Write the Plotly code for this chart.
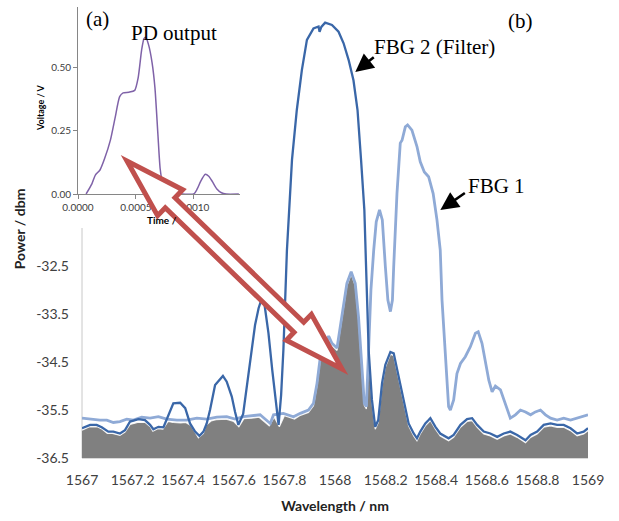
import math
import plotly.graph_objects as go

# ---------------- data (main chart) ----------------
WL_FBG2 = [1567.000, 1567.032, 1567.058, 1567.078, 1567.104, 1567.124, 1567.150, 1567.170, 1567.190,
           1567.223, 1567.249, 1567.269, 1567.282, 1567.302, 1567.322, 1567.341, 1567.361, 1567.388,
           1567.408, 1567.427, 1567.447, 1567.464, 1567.480, 1567.493, 1567.506, 1567.526, 1567.557,
           1567.572, 1567.592, 1567.605, 1567.618, 1567.637, 1567.665, 1567.684, 1567.698, 1567.711,
           1567.720, 1567.737, 1567.752, 1567.764, 1567.777, 1567.787, 1567.796, 1567.810, 1567.830,
           1567.849, 1567.869, 1567.889, 1567.915, 1567.935, 1567.939, 1567.946, 1567.961, 1567.988,
           1568.014, 1568.034, 1568.054, 1568.073, 1568.089, 1568.103, 1568.116, 1568.122, 1568.133,
           1568.146, 1568.159, 1568.171, 1568.186, 1568.199, 1568.219, 1568.232, 1568.251, 1568.271,
           1568.291, 1568.311, 1568.324, 1568.337, 1568.357, 1568.370, 1568.377, 1568.397, 1568.416,
           1568.449, 1568.469, 1568.496, 1568.522, 1568.542, 1568.562, 1568.588, 1568.614, 1568.641,
           1568.667, 1568.693, 1568.720, 1568.753, 1568.773, 1568.799, 1568.825, 1568.852, 1568.878,
           1568.904, 1568.931, 1568.957, 1568.983, 1569.000]
P_FBG2 = [-35.88, -35.81, -35.81, -35.86, -35.95, -35.95, -35.99, -35.92, -35.74,
          -35.69, -35.71, -35.81, -35.90, -35.85, -35.86, -35.60, -35.36, -35.35,
          -35.46, -35.78, -35.95, -36.04, -35.95, -35.78, -35.50, -34.98, -34.79,
          -34.91, -35.22, -35.54, -35.81, -35.58, -34.46, -33.73, -33.38, -33.17,
          -33.25, -33.90, -34.67, -35.29, -35.81, -35.19, -34.25, -32.17, -30.29,
          -29.25, -28.42, -27.79, -27.55, -27.51, -27.62, -27.52, -27.43, -27.48,
          -27.62, -27.86, -28.21, -28.63, -29.25, -30.29, -31.33, -32.38, -34.25,
          -35.29, -35.85, -35.71, -34.94, -34.56, -34.29, -34.32, -34.81, -35.29,
          -35.78, -35.99, -36.09, -35.95, -35.78, -35.71, -35.67, -35.85, -35.99,
          -36.09, -36.02, -35.81, -35.69, -35.67, -35.81, -35.95, -35.99, -36.06,
          -35.99, -35.95, -36.02, -36.13, -36.02, -35.95, -35.81, -35.78, -35.81,
          -35.81, -35.88, -35.99, -35.95, -35.88]

WL_FBG1 = [1567.000, 1567.032, 1567.071, 1567.098, 1567.124, 1567.150, 1567.177, 1567.203, 1567.236,
           1567.269, 1567.302, 1567.335, 1567.375, 1567.414, 1567.454, 1567.493, 1567.533, 1567.572,
           1567.605, 1567.638, 1567.671, 1567.704, 1567.744, 1567.757, 1567.796, 1567.836, 1567.863,
           1567.895, 1567.915, 1567.929, 1567.942, 1567.961, 1567.975, 1567.988, 1568.008, 1568.027,
           1568.047, 1568.064, 1568.080, 1568.093, 1568.107, 1568.116, 1568.124, 1568.134, 1568.142,
           1568.153, 1568.163, 1568.176, 1568.187, 1568.199, 1568.209, 1568.219, 1568.227, 1568.232,
           1568.245, 1568.258, 1568.265, 1568.278, 1568.287, 1568.304, 1568.324, 1568.337, 1568.353,
           1568.370, 1568.388, 1568.403, 1568.416, 1568.423, 1568.436, 1568.449, 1568.456, 1568.469,
           1568.482, 1568.496, 1568.515, 1568.535, 1568.555, 1568.566, 1568.581, 1568.594, 1568.608,
           1568.621, 1568.634, 1568.654, 1568.674, 1568.693, 1568.713, 1568.733, 1568.753, 1568.773,
           1568.792, 1568.812, 1568.832, 1568.852, 1568.878, 1568.904, 1568.931, 1568.957, 1568.983,
           1569.000]
P_FBG1 = [-35.67, -35.69, -35.71, -35.71, -35.76, -35.74, -35.69, -35.71, -35.65,
          -35.67, -35.64, -35.69, -35.71, -35.71, -35.67, -35.69, -35.65, -35.64,
          -35.69, -35.64, -35.62, -35.60, -35.78, -35.60, -35.57, -35.64, -35.57,
          -35.50, -35.36, -34.94, -34.39, -34.11, -33.96, -34.11, -34.21, -33.56,
          -32.86, -32.62, -32.86, -33.56, -34.60, -35.36, -35.43, -34.25, -33.00,
          -32.17, -31.58, -31.33, -31.54, -32.51, -33.21, -33.45, -33.21, -32.51,
          -30.99, -29.94, -29.88, -29.60, -29.56, -29.67, -30.01, -30.33, -30.54,
          -30.64, -30.99, -31.54, -32.17, -33.21, -34.25, -35.43, -35.50, -35.29,
          -34.74, -34.53, -34.39, -34.18, -33.90, -33.87, -34.11, -34.46, -34.88,
          -35.12, -35.00, -35.08, -35.36, -35.67, -35.60, -35.50, -35.54, -35.60,
          -35.54, -35.50, -35.60, -35.67, -35.71, -35.67, -35.71, -35.67, -35.64,
          -35.60]

WL_OUT = [1567.000, 1567.030, 1567.060, 1567.080, 1567.100, 1567.120, 1567.150, 1567.170, 1567.190,
          1567.220, 1567.250, 1567.270, 1567.280, 1567.300, 1567.320, 1567.340, 1567.360, 1567.390,
          1567.410, 1567.430, 1567.450, 1567.460, 1567.480, 1567.490, 1567.510, 1567.530, 1567.570,
          1567.600, 1567.620, 1567.640, 1567.670, 1567.700, 1567.740, 1567.760, 1567.780, 1567.800,
          1567.840, 1567.860, 1567.895, 1567.915, 1567.929, 1567.942, 1567.961, 1567.975, 1567.988,
          1568.008, 1568.027, 1568.047, 1568.064, 1568.080, 1568.093, 1568.107, 1568.116, 1568.124,
          1568.133, 1568.146, 1568.159, 1568.171, 1568.186, 1568.199, 1568.219, 1568.232, 1568.251,
          1568.271, 1568.291, 1568.311, 1568.324, 1568.337, 1568.357, 1568.377, 1568.397, 1568.416,
          1568.449, 1568.469, 1568.496, 1568.522, 1568.542, 1568.562, 1568.588, 1568.614, 1568.641,
          1568.667, 1568.693, 1568.720, 1568.753, 1568.773, 1568.799, 1568.825, 1568.852, 1568.878,
          1568.904, 1568.931, 1568.957, 1568.983, 1569.000]
P_OUT = [-35.92, -35.85, -35.85, -35.90, -35.99, -35.99, -36.03, -35.96, -35.80,
         -35.76, -35.76, -35.85, -35.94, -35.89, -35.90, -35.74, -35.76, -35.77,
         -35.76, -35.82, -35.99, -36.08, -35.99, -35.82, -35.73, -35.70, -35.69,
         -35.74, -35.85, -35.68, -35.67, -35.65, -35.83, -35.65, -35.85, -35.62,
         -35.69, -35.62, -35.55, -35.41, -34.99, -34.44, -34.16, -34.01, -34.16,
         -34.26, -33.61, -32.91, -32.67, -32.91, -33.61, -34.65, -35.41, -35.48,
         -34.30, -35.34, -35.90, -35.76, -34.99, -34.61, -34.34, -34.37, -34.86,
         -35.34, -35.83, -36.04, -36.14, -36.00, -35.83, -35.72, -35.90, -36.04,
         -36.14, -36.07, -35.86, -35.74, -35.72, -35.86, -36.00, -36.04, -36.11,
         -36.04, -36.00, -36.07, -36.18, -36.07, -36.00, -35.86, -35.83, -35.86,
         -35.86, -35.93, -36.04, -36.00, -35.93]

BASE_LEVEL = -36.5
X_TICKS = [1567, 1567.2, 1567.4, 1567.6, 1567.8, 1568, 1568.2, 1568.4, 1568.6, 1568.8, 1569]
X_TICK_TEXT = ["1567", "1567.2", "1567.4", "1567.6", "1567.8", "1568", "1568.2", "1568.4",
               "1568.6", "1568.8", "1569"]
Y_TICKS = [-36.5, -35.5, -34.5, -33.5, -32.5]
Y_TICK_TEXT = ["-36.5", "-35.5", "-34.5", "-33.5", "-32.5"]

# ---------------- data (inset, PD output) ----------------
T_PD = [0.00007, 0.00012, 0.00015, 0.00019, 0.00023, 0.00028, 0.00032, 0.00036, 0.00039, 0.00044,
        0.00049, 0.00052, 0.00055, 0.00057, 0.000585, 0.00061, 0.00064, 0.000665, 0.00069, 0.00071,
        0.00073, 0.00076, 0.00080, 0.00090, 0.00100, 0.00103, 0.00106, 0.00110, 0.00113, 0.00116,
        0.00120, 0.00124, 0.00128, 0.00139]
V_PD = [0.0, 0.04, 0.075, 0.095, 0.14, 0.213, 0.30, 0.385, 0.40, 0.403,
        0.41, 0.46, 0.57, 0.615, 0.62, 0.59, 0.52, 0.42, 0.24, 0.10,
        0.045, 0.012, 0.0, 0.0, 0.0, 0.02, 0.05, 0.078, 0.07, 0.05,
        0.02, 0.005, 0.0, 0.0]
T_TICKS = [0.0, 0.0005, 0.0010]
T_TICK_TEXT = ["0.0000", "0.0005", "0.0010"]
V_TICKS = [0.0, 0.25, 0.5]
V_TICK_TEXT = ["0.00", "0.25", "0.50"]

# ---------------- layout helpers ----------------
W, H = 619, 521
ML, MR, MT, MB = 30, 31, 0, 63
PW, PH = W - ML - MR, H - MT - MB


def px(xp):
    return (xp - ML) / PW


def py(yp):
    return (H - MB - yp) / PH


SANS = "Lato"
SERIF = "Liberation Serif"
DARK = "#3A67A8"
LIGHT = "#8FAAD6"
GREY = "#808080"
RED = "#C0504D"
PURPLE = "#7F62A8"

fig = go.Figure()
fig.add_trace(go.Scatter(x=[X_TICKS[0], X_TICKS[-1]], y=[BASE_LEVEL, BASE_LEVEL], mode="lines",
                         line=dict(width=0, color=GREY), showlegend=False, hoverinfo="skip"))
fig.add_trace(go.Scatter(x=WL_OUT, y=P_OUT, mode="lines", fill="tonexty", fillcolor=GREY,
                         line=dict(color="rgba(255,255,255,0.85)", width=1.2), showlegend=False))
fig.add_trace(go.Scatter(x=WL_FBG1, y=P_FBG1, mode="lines",
                         line=dict(color=LIGHT, width=2.8), showlegend=False))
fig.add_trace(go.Scatter(x=WL_FBG2, y=P_FBG2, mode="lines",
                         line=dict(color=DARK, width=2.3), showlegend=False))
fig.add_trace(go.Scatter(x=T_PD, y=V_PD, mode="lines", xaxis="x2", yaxis="y2",
                         line=dict(color=PURPLE, width=1.5, shape="spline", smoothing=0.6),
                         showlegend=False))

fig.update_layout(
    width=W, height=H,
    margin=dict(l=ML, r=MR, t=MT, b=MB, pad=0),
    paper_bgcolor="white", plot_bgcolor="white",
    template="none",
    xaxis=dict(domain=[px(82), 1], range=[1567, 1569], tickvals=X_TICKS, ticktext=X_TICK_TEXT,
               showgrid=False, zeroline=False, showline=True, linecolor="#d9d9d9", linewidth=1,
               ticks="", ticklabelstandoff=9, automargin=False,
               tickfont=dict(family=SANS, size=14, color="#404040"),
               title=dict(text="<b>Wavelength / nm</b>", standoff=14,
                          font=dict(family=SANS, size=14, color="#222"))),
    yaxis=dict(domain=[0, 1], range=[-36.5, -36.5 + 458 / 48], tickvals=Y_TICKS, ticktext=Y_TICK_TEXT,
               showgrid=False, zeroline=False, showline=False, ticks="", ticklabelstandoff=12,
               automargin=False, tickfont=dict(family=SANS, size=14, color="#404040"),
               title=dict(text="<b>Power / dbm</b>", standoff=7,
                          font=dict(family=SANS, size=14, color="#222"))),
    xaxis2=dict(domain=[px(78), px(240)], anchor="y2", range=[0, 0.0014], tickvals=T_TICKS,
                ticktext=T_TICK_TEXT, showgrid=False, zeroline=False, showline=True,
                linecolor="#868686", linewidth=1, ticks="outside", ticklen=4, tickcolor="#868686",
                automargin=False, tickfont=dict(family=SANS, size=10, color="#404040")),
    yaxis2=dict(domain=[py(194), py(7)], anchor="x2", range=[0, 0.74], tickvals=V_TICKS,
                ticktext=V_TICK_TEXT, showgrid=False, zeroline=False, showline=True,
                linecolor="#868686", linewidth=1, ticks="outside", ticklen=4, tickcolor="#868686",
                automargin=False, tickfont=dict(family=SANS, size=10, color="#404040")),
)

# main y axis line (partially hidden by the inset in the original)
fig.add_shape(type="line", xref="paper", yref="paper", x0=px(82), x1=px(82), y0=py(458), y1=py(228),
              line=dict(color="#c8c8c8", width=1), layer="below")

# red hollow double arrow
A = (127.0, 161.0)
B = (342.0, 369.0)
dx, dy = B[0] - A[0], B[1] - A[1]
L = math.hypot(dx, dy)
ux, uy = dx / L, dy / L
nx, ny = -uy, ux
hl, hw, sw = 60.0, 18.0, 7.0


def pt(base, along, across):
    return (base[0] + ux * along + nx * across, base[1] + uy * along + ny * across)


poly = [A, pt(A, hl, hw), pt(A, hl, sw), pt(B, -hl, sw), pt(B, -hl, hw), B,
        pt(B, -hl, -hw), pt(B, -hl, -sw), pt(A, hl, -sw), pt(A, hl, -hw)]
path = "M " + " L ".join(f"{px(p[0]):.5f},{py(p[1]):.5f}" for p in poly) + " Z"
fig.add_shape(type="path", path=path, xref="paper", yref="paper", fillcolor="white",
              line=dict(color=RED, width=5), layer="above")

# black arrows
fig.add_annotation(x=1567 + (355 - 82) / 252.75, y=-36.5 + (458 - 72) / 48, xref="x", yref="y",
                   ax=20, ay=-16, text="", showarrow=True, arrowhead=2, arrowsize=1.4,
                   arrowwidth=2.6, arrowcolor="black")
fig.add_annotation(x=1567 + (440 - 82) / 252.75, y=-36.5 + (458 - 210) / 48, xref="x", yref="y",
                   ax=26, ay=-18, text="", showarrow=True, arrowhead=2, arrowsize=1.4,
                   arrowwidth=2.6, arrowcolor="black")

# texts
def label(text, x, y, size=21, family=SERIF, anchor="left", angle=0, color="black"):
    fig.add_annotation(x=px(x), y=py(y), xref="paper", yref="paper", text=text, showarrow=False,
                       xanchor=anchor, yanchor="middle", textangle=angle,
                       font=dict(family=family, size=size, color=color))


label("(a)", 84, 19)
label("PD output", 129, 33)
label("(b)", 506, 21)
label("FBG 2 (Filter)", 372, 47)
label("FBG 1", 466, 186)
label("<b>Voltage / V</b>", 40, 108, size=9, family=SANS, anchor="center", angle=-90)
label("<b>Time /</b>", 145, 220, size=10, family=SANS)

fig.write_html("out.html")
